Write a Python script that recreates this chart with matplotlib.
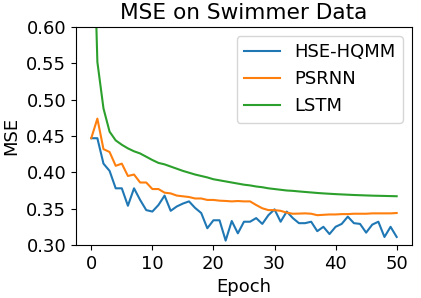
import matplotlib
matplotlib.use("Agg")
import matplotlib.pyplot as plt
import numpy as np

plt.rcParams['font.size'] = 13

epochs = np.arange(51)

hse_hqmm = [0.447, 0.447, 0.412, 0.402, 0.378, 0.378, 0.354, 0.378, 0.362, 0.348,
            0.346, 0.355, 0.368, 0.347, 0.353, 0.357, 0.360, 0.351, 0.344, 0.323,
            0.334, 0.334, 0.306, 0.333, 0.316, 0.332, 0.332, 0.337, 0.329, 0.341,
            0.349, 0.332, 0.346, 0.337, 0.330, 0.330, 0.332, 0.319, 0.325, 0.315,
            0.325, 0.329, 0.339, 0.330, 0.329, 0.317, 0.328, 0.332, 0.311, 0.325,
            0.311]

psrnn = [0.447, 0.474, 0.432, 0.428, 0.409, 0.412, 0.395, 0.397, 0.386, 0.386,
         0.377, 0.377, 0.372, 0.371, 0.368, 0.367, 0.366, 0.364, 0.364, 0.362,
         0.362, 0.361, 0.3606, 0.360, 0.3605, 0.360, 0.360, 0.355, 0.3505, 0.348,
         0.348, 0.347, 0.3445, 0.343, 0.3432, 0.3435, 0.343, 0.341, 0.3415, 0.342,
         0.342, 0.3425, 0.3425, 0.343, 0.343, 0.343, 0.3435, 0.3435, 0.3435, 0.3435,
         0.344]

lstm = [0.85, 0.552, 0.488, 0.456, 0.444, 0.438, 0.433, 0.429, 0.426, 0.4215,
        0.417, 0.413, 0.411, 0.408, 0.405, 0.402, 0.3995, 0.397, 0.395, 0.393,
        0.3905, 0.389, 0.3875, 0.386, 0.3845, 0.383, 0.382, 0.3805, 0.3795, 0.378,
        0.377, 0.376, 0.375, 0.3745, 0.3737, 0.373, 0.3723, 0.3716, 0.371, 0.3705,
        0.370, 0.3696, 0.3692, 0.3688, 0.3685, 0.3682, 0.3679, 0.3677, 0.3675, 0.3673,
        0.3671]

fig = plt.figure(figsize=(4.21, 2.98), dpi=100)
ax = fig.add_axes([0.1805, 0.178, 0.798, 0.731])
ax.plot(epochs, hse_hqmm, label="HSE-HQMM")
ax.plot(epochs, psrnn, label="PSRNN")
ax.plot(epochs, lstm, label="LSTM")
ax.set_ylim(0.30, 0.60)
ax.set_xticks([0, 10, 20, 30, 40, 50])
ax.set_yticks([0.30, 0.35, 0.40, 0.45, 0.50, 0.55, 0.60])
ax.set_xlabel("Epoch")
ax.set_ylabel("MSE")
ax.set_title("MSE on Swimmer Data")
ax.legend(loc="upper right")
fig.savefig("out.png", dpi=100)
